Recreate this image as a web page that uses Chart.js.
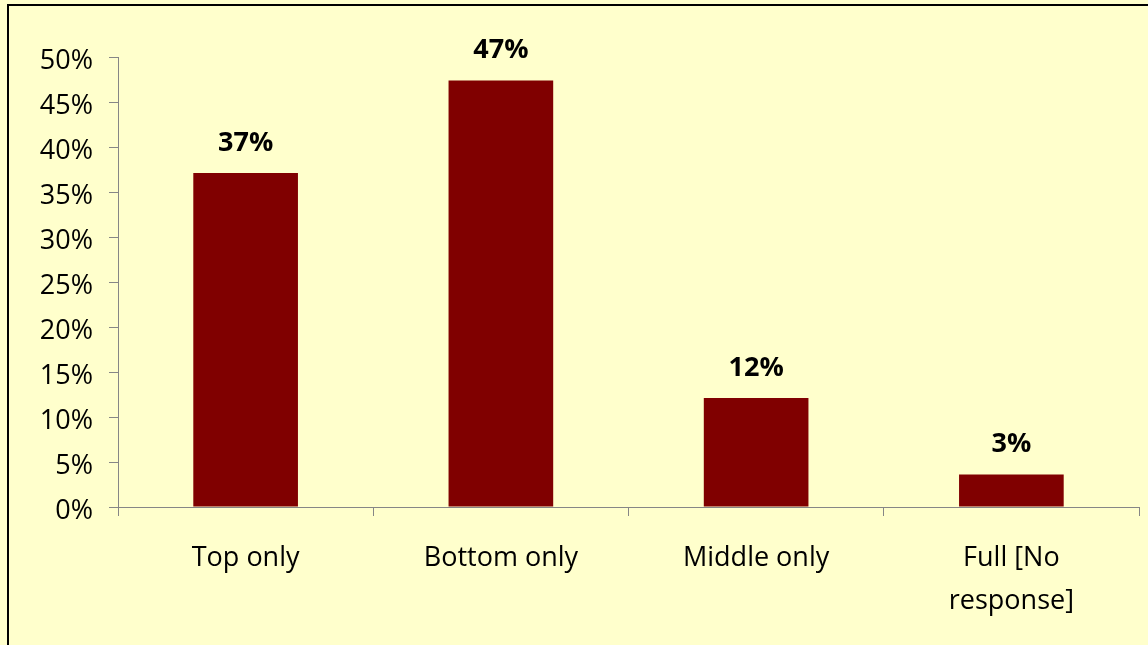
<!DOCTYPE html>
<html>
<head>
<meta charset="utf-8">
<script src="https://cdn.jsdelivr.net/npm/chart.js@4"></script>
<style>
html,body{margin:0;padding:0;background:#FFFFCC;}
#wrap{width:1148px;height:645px;position:relative;}
</style>
</head>
<body>
<div id="wrap"><canvas id="c" width="1148" height="645"></canvas></div>
<script>
const categories = ["Top only", "Bottom only", "Middle only", ["Full [No", "response]"]];
const values = [37.1, 47.4, 12.1, 3.6];
const valueLabels = ["37%", "47%", "12%", "3%"];
const yTicks = [0, 5, 10, 15, 20, 25, 30, 35, 40, 45, 50];

const FONT = "'Open Sans', sans-serif";

const bgPlugin = {
  id: 'bg',
  beforeDraw(chart) {
    const ctx = chart.ctx;
    ctx.save();
    ctx.fillStyle = '#FFFFCC';
    ctx.fillRect(0, 0, chart.width, chart.height);
    ctx.strokeStyle = '#000000';
    ctx.lineWidth = 2;
    ctx.strokeRect(8, 5, chart.width + 10, chart.height + 10);
    ctx.restore();
  }
};

const labelPlugin = {
  id: 'vlabels',
  afterDatasetsDraw(chart) {
    const ctx = chart.ctx;
    const meta = chart.getDatasetMeta(0);
    ctx.save();
    ctx.font = "bold 27px " + FONT;
    ctx.fillStyle = '#000';
    ctx.textAlign = 'center';
    ctx.textBaseline = 'middle';
    meta.data.forEach((bar, i) => {
      ctx.fillText(valueLabels[i], bar.x, bar.y - 30);
    });
    ctx.restore();
  }
};

new Chart(document.getElementById('c'), {
  type: 'bar',
  data: {
    labels: categories,
    datasets: [{
      data: values,
      backgroundColor: '#800000',
      borderWidth: 0,
      categoryPercentage: 1.0,
      barPercentage: 0.41
    }]
  },
  options: {
    responsive: false,
    animation: false,
    events: [],
    layout: { padding: { left: 0, top: 57, right: 9, bottom: 0 } },
    plugins: { legend: { display: false }, tooltip: { enabled: false } },
    scales: {
      y: {
        min: 0, max: 50,
        afterFit(s) { s.width = 118; },
        afterBuildTicks(s) { s.ticks = yTicks.map(v => ({ value: v })); },
        border: { display: true, color: '#868686', width: 1 },
        grid: { drawOnChartArea: false, drawTicks: true, tickLength: 9, color: '#868686' },
        ticks: {
          padding: 16,
          labelOffset: 4,
          color: '#000',
          font: { family: FONT, size: 27 },
          callback: v => v + '%'
        }
      },
      x: {
        afterFit(s) { s.height = 138; },
        border: { display: true, color: '#868686', width: 1 },
        grid: { drawOnChartArea: false, drawTicks: true, tickLength: 9, color: '#868686', offset: true },
        ticks: {
          padding: 21,
          color: '#000',
          maxRotation: 0,
          font: { family: FONT, size: 27, lineHeight: 1.6 }
        }
      }
    }
  },
  plugins: [bgPlugin, labelPlugin]
});
</script>
</body>
</html>
